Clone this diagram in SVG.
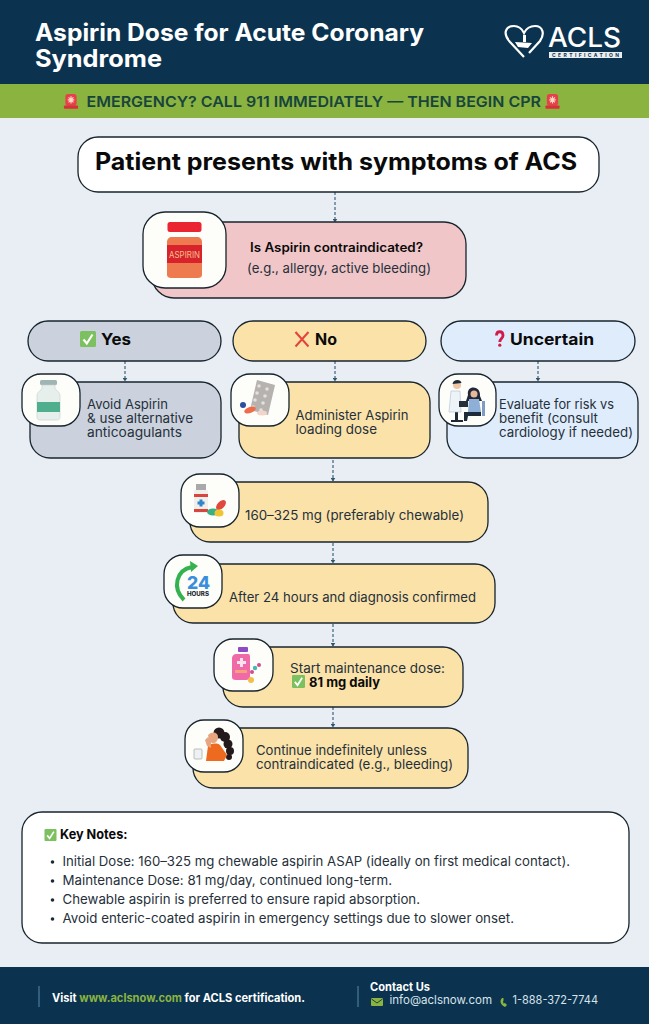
<svg xmlns="http://www.w3.org/2000/svg" width="649" height="1024" viewBox="0 0 649 1024">
<style>
text{font-family:Inter,"Open Sans","Liberation Sans",sans-serif;fill:#26303a;font-size:13px}
.b{font-weight:700;fill:#0a0a0a}
.w{fill:#fff}
.box{stroke:#17242c;stroke-width:1.3}
.icon{fill:#fdfdfa;stroke:#17242c;stroke-width:1.3}
.amber{fill:#fae2a9}
.conn{fill:none;stroke:#2f5870;stroke-width:1.1;stroke-dasharray:3 2;marker-end:url(#ah)}
</style>
<defs>
<marker id="ah" markerWidth="5" markerHeight="5" refX="3.4" refY="2.5" orient="auto" markerUnits="userSpaceOnUse"><path d="M0 0L4 2.5L0 5Z" fill="#2f5870"/></marker>
<symbol id="chk" viewBox="0 0 16 16" overflow="visible"><rect width="16" height="16" rx="1.5" fill="#7cc05f"/><path d="M3.5 8.5L6.8 12.5L12.5 3.5" fill="none" stroke="#fff" stroke-width="2.2"/></symbol>
<symbol id="siren" viewBox="0 0 16 16" overflow="visible"><rect x="2" y="0" width="12" height="12.5" rx="3" fill="#e8404a"/><rect x="0.5" y="12.3" width="15" height="3.5" rx="0.8" fill="#d92f3a"/><path d="M8 2.5V10M4.5 6.3H11.5M5.4 3.7L10.6 8.9M10.6 3.7L5.4 8.9" stroke="#fbd9c4" stroke-width="1.2"/></symbol>
</defs>

<rect width="649" height="1024" fill="#e9eef5"/>

<g id="header">
<rect width="649" height="84" fill="#0b3350"/>
<text class="w" x="35" y="41" style="font-size:24px;font-weight:700" textLength="389" lengthAdjust="spacingAndGlyphs">Aspirin Dose for Acute Coronary</text>
<text class="w" x="35" y="67" style="font-size:24px;font-weight:700" textLength="127" lengthAdjust="spacingAndGlyphs">Syndrome</text>
<g id="logo">
<path d="M524 57L510 42C502 33 506 26 514 26C519 26 522 29 524 33C526 29 530 26 535 26C543 26 545 34 540 41L529 53" fill="none" stroke="#fff" stroke-width="2.2"/>
<path d="M515 42L532 43L528 48L518 47ZM523 35H526V42H523Z" fill="#fff"/>
<text class="w" x="548" y="47" style="font-size:27px;font-weight:500" textLength="73" lengthAdjust="spacingAndGlyphs">ACLS</text>
<rect x="549" y="52" width="73" height="6" fill="#e9eef1"/>
<text x="552" y="57" style="font-size:5px;font-weight:700;fill:#0b3350" textLength="67">CERTIFICATION</text>
</g>
</g>

<g id="banner">
<rect y="84" width="649" height="34" fill="#8ab33f"/>
<use href="#siren" x="63" y="94" width="16" height="15"/>
<text x="86.500" y="107" style="font-size:15px;font-weight:600;fill:#17443d" textLength="454.500" lengthAdjust="spacingAndGlyphs">EMERGENCY? CALL 911 IMMEDIATELY — THEN BEGIN CPR</text>
<use href="#siren" x="545" y="94" width="15" height="15"/>
</g>

<g id="connectors">
<path class="conn" d="M335 192V222"/>
<path class="conn" d="M125 361V381"/>
<path class="conn" d="M335 361V381"/>
<path class="conn" d="M538 361V381"/>
<path class="conn" d="M333 460V481"/>
<path class="conn" d="M333 543V563"/>
<path class="conn" d="M333 624V646"/>
<path class="conn" d="M333 707V727"/>
</g>

<g id="n-start">
<rect class="box" x="78" y="137" width="521" height="55" rx="20" fill="#fff"/>
<text class="b" x="95" y="170" style="font-size:24px" textLength="482" lengthAdjust="spacingAndGlyphs">Patient presents with symptoms of ACS</text>
</g>

<g id="n-question">
<rect class="box" x="152" y="222" width="314" height="76" rx="22" fill="#f0c6c8"/>
<rect class="icon" x="143" y="212" width="83" height="76" rx="22"/>
<rect x="167.500" y="222" width="34" height="10" rx="2.500" fill="#ea2430"/>
<path d="M172 237H197C200 237 202 239 202 242V275C202 277 200 278 198 278H171C169 278 167 277 167 275V242C167 239 169 237 172 237Z" fill="#ee7b50"/>
<rect x="167" y="245" width="35" height="18" fill="#d8232c"/>
<text x="169" y="258" style="font-size:9px;fill:#f5c08a" textLength="31" lengthAdjust="spacingAndGlyphs">ASPIRIN</text>
<text class="b" x="250" y="252" style="font-size:12.500px;font-weight:600" textLength="173" lengthAdjust="spacingAndGlyphs">Is Aspirin contraindicated?</text>
<text x="247" y="273" style="font-size:13.500px" textLength="184" lengthAdjust="spacingAndGlyphs">(e.g., allergy, active bleeding)</text>
</g>

<g id="n-yes">
<rect class="box" x="28" y="321" width="193" height="40" rx="20" fill="#cbd2de"/>
<use href="#chk" x="80" y="331" width="16" height="16"/>
<text class="b" x="101" y="345" style="font-size:16px" textLength="30" lengthAdjust="spacingAndGlyphs">Yes</text>
</g>
<g id="n-no">
<rect x="233" y="321" width="193" height="40" rx="20" class="box amber"/>
<path d="M295.500 332L308.500 346.500M308.500 332L295.500 346.500" stroke="#e6423c" stroke-width="2" fill="none"/>
<text class="b" x="315" y="345" style="font-size:16px" textLength="22" lengthAdjust="spacingAndGlyphs">No</text>
</g>
<g id="n-uncertain">
<rect class="box" x="441" y="321" width="194" height="40" rx="20" fill="#deecfb"/>
<path d="M496.500 335.500C496.500 330.500 503 330.500 503 335.500C503 338.500 499.800 338.500 499.800 342" fill="none" stroke="#d01c4b" stroke-width="2.800"/>
<circle cx="499.800" cy="345.200" r="1.600" fill="#d01c4b"/>
<text class="b" x="510" y="345" style="font-size:16px" textLength="84" lengthAdjust="spacingAndGlyphs">Uncertain</text>
</g>

<g id="n-avoid">
<rect class="box" x="30" y="382" width="191" height="76" rx="20" fill="#cbd2de"/>
<rect class="icon" x="22" y="374" width="58" height="52" rx="19"/>
<rect x="40" y="380" width="17" height="5" rx="1.500" fill="#9fb6b4"/>
<path d="M42 385H55V389C58 391 60 393 60 396V417C60 419 59 420 57 420H40C38 420 37 419 37 417V396C37 393 39 391 42 389Z" fill="#e7efec" stroke="#c3cfcc" stroke-width="0.600"/>
<rect x="37" y="402" width="23" height="10" fill="#4fae8e"/>
<text x="87" y="409" textLength="81" lengthAdjust="spacingAndGlyphs">Avoid Aspirin</text>
<text x="87" y="423" textLength="106" lengthAdjust="spacingAndGlyphs">&amp; use alternative</text>
<text x="87" y="437" textLength="95" lengthAdjust="spacingAndGlyphs">anticoagulants</text>
</g>

<g id="n-administer">
<rect x="239" y="382" width="191" height="76" rx="20" class="box amber"/>
<rect class="icon" x="231" y="374" width="58" height="52" rx="19"/>
<path d="M257 380L275 385L268 415L250 410Z" fill="#b5b2af"/>
<g fill="#e4e1dd"><circle cx="259" cy="386" r="1.800"/><circle cx="267" cy="389" r="1.800"/><circle cx="257" cy="393" r="1.800"/><circle cx="265" cy="396" r="1.800"/><circle cx="255" cy="400" r="1.800"/><circle cx="263" cy="403" r="1.800"/><circle cx="253" cy="407" r="1.800"/><circle cx="261" cy="410" r="1.800"/></g>
<circle cx="243" cy="405" r="3" fill="#2b4f9e"/>
<ellipse cx="250" cy="410" rx="6" ry="3" fill="#ef6c4a" transform="rotate(-20 250 410)"/>
<ellipse cx="262" cy="413" rx="5" ry="2.500" fill="#f2d5c8"/>
<text x="295.500" y="420" textLength="113" lengthAdjust="spacingAndGlyphs">Administer Aspirin</text>
<text x="295.500" y="434" textLength="81.500" lengthAdjust="spacingAndGlyphs">loading dose</text>
</g>

<g id="n-evaluate">
<rect class="box" x="447" y="382" width="191" height="76" rx="20" fill="#deecfb"/>
<rect class="icon" x="439" y="374" width="57" height="52" rx="19"/>
<path d="M455 412H458V420H463V422H451V420H455Z" fill="#1f2a36"/>
<path d="M451 391H460L461 412H449Z" fill="#eef3f7" stroke="#a9c0d2" stroke-width="0.600"/>
<circle cx="457" cy="385" r="4" fill="#f0c4a4"/>
<path d="M452.500 384C453 379 461 379 461.500 383Z" fill="#1d2a3a"/>
<rect x="459" y="401" width="9" height="6" fill="#26303a"/>
<rect x="482" y="401" width="3" height="15" fill="#7f9cc2"/>
<path d="M468 395C466 385 481 385 480 396L482 401H466Z" fill="#22283a"/>
<circle cx="474" cy="394" r="3.500" fill="#e9b89a"/>
<path d="M469 399H479L481 412H468Z" fill="#8fb0d6"/>
<path d="M464 412H481V416H468L467 421H464Z" fill="#1d2a3a"/>
<text x="499" y="409" textLength="115" lengthAdjust="spacingAndGlyphs">Evaluate for risk vs</text>
<text x="499" y="423" textLength="99" lengthAdjust="spacingAndGlyphs">benefit (consult</text>
<text x="499" y="437" textLength="134" lengthAdjust="spacingAndGlyphs">cardiology if needed)</text>
</g>

<g id="n-dose">
<rect x="190" y="482" width="298" height="60" rx="20" class="box amber"/>
<rect class="icon" x="181" y="474" width="58" height="53" rx="19"/>
<rect x="196" y="484" width="10" height="6" fill="#a9a9a9"/>
<rect x="194" y="490" width="14" height="23" rx="1.500" fill="#f1efec"/>
<rect x="194" y="494" width="14" height="3" fill="#d9443c"/>
<rect x="194" y="509" width="14" height="3" fill="#d9443c"/>
<path d="M199.500 499.500H202.500V501.500H204.500V504.500H202.500V506.500H199.500V504.500H197.500V501.500H199.500Z" fill="#2e86c8"/>
<ellipse cx="221" cy="505" rx="6" ry="3.500" fill="#e0493f" transform="rotate(-45 221 505)"/>
<ellipse cx="213" cy="512" rx="6" ry="3.500" fill="#3aae86"/>
<ellipse cx="219" cy="513" rx="4.500" ry="3.500" fill="#f1c532"/>
<text x="245" y="520" textLength="219" lengthAdjust="spacingAndGlyphs">160–325 mg (preferably chewable)</text>
</g>

<g id="n-24h">
<rect x="173" y="564" width="322" height="59" rx="20" class="box amber"/>
<rect class="icon" x="164" y="555" width="58" height="53" rx="19"/>
<path d="M184 600C172 588 176 570 192 567" fill="none" stroke="#33b24f" stroke-width="4"/>
<path d="M190 561L198 566L191 572Z" fill="#33b24f"/>
<text x="187" y="589" style="font-size:18px;font-weight:800;fill:#3a8fdc" textLength="23" lengthAdjust="spacingAndGlyphs">24</text>
<text x="187" y="596" style="font-size:6px;font-weight:800;fill:#1d2a33" textLength="22" lengthAdjust="spacingAndGlyphs">HOURS</text>
<text x="229" y="602" textLength="247" lengthAdjust="spacingAndGlyphs">After 24 hours and diagnosis confirmed</text>
</g>

<g id="n-maintenance">
<rect x="223" y="647" width="240" height="60" rx="20" class="box amber"/>
<rect class="icon" x="214" y="639" width="59" height="52" rx="19"/>
<rect x="238" y="647" width="10" height="5" rx="1" fill="#8d4bc4"/>
<path d="M236 654H248C250 654 250 656 250 658V677C250 679 248 680 246 680H236C233 680 232 679 232 677V658C232 656 234 654 236 654Z" fill="#f06aa8"/>
<path d="M240 658H243V661H246V664H243V667H240V664H237V661H240Z" fill="#fbe3ee"/>
<rect x="235" y="670" width="12" height="3" fill="#f4a27e"/>
<circle cx="255" cy="668" r="2.200" fill="#4ab8b0"/><circle cx="259" cy="665" r="2" fill="#d94a8a"/><circle cx="252" cy="672" r="2" fill="#d94a8a"/><circle cx="251" cy="680" r="3" fill="#f2c04a"/>
<text x="290" y="673" textLength="155" lengthAdjust="spacingAndGlyphs">Start maintenance dose:</text>
<use href="#chk" x="292" y="675" width="13" height="13"/>
<text class="b" x="309" y="687" style="font-size:13px" textLength="71" lengthAdjust="spacingAndGlyphs">81 mg daily</text>
</g>

<g id="n-continue">
<rect x="193" y="728" width="275" height="60" rx="20" class="box amber"/>
<rect class="icon" x="185" y="720" width="58" height="52" rx="19"/>
<g fill="#241a1c"><circle cx="219" cy="733" r="5.500"/><circle cx="225" cy="737" r="5"/><circle cx="228" cy="744" r="4.500"/><circle cx="230" cy="751" r="4"/><circle cx="229" cy="757" r="3"/></g>
<path d="M208 735C212 731 218 732 218 737C218 741 215 744 212 743L209 741Z" fill="#e8a680"/>
<path d="M208 746C212 743 217 743 220 745L227 755L224 761H206Z" fill="#ee6a1f"/>
<path d="M207 746L205 740L208 737L211 741L211 748Z" fill="#e8a680"/>
<rect x="194" y="749" width="8" height="10" rx="1" fill="#eef1f2" stroke="#a9b0b3" stroke-width="0.800"/>
<text x="256" y="755" textLength="171" lengthAdjust="spacingAndGlyphs">Continue indefinitely unless</text>
<text x="256" y="769" textLength="197" lengthAdjust="spacingAndGlyphs">contraindicated (e.g., bleeding)</text>
</g>

<g id="n-notes">
<rect class="box" x="22" y="812" width="607" height="131" rx="20" fill="#fff"/>
<use href="#chk" x="44" y="829" width="13" height="12"/>
<text class="b" x="60" y="839" style="font-size:13px" textLength="67.500" lengthAdjust="spacingAndGlyphs">Key Notes:</text>
<g fill="#1d2a33"><circle cx="52.500" cy="862" r="1.800"/><circle cx="52.500" cy="881" r="1.800"/><circle cx="52.500" cy="900" r="1.800"/><circle cx="52.500" cy="919" r="1.800"/></g>
<text x="62.500" y="866" textLength="507.500" lengthAdjust="spacingAndGlyphs">Initial Dose: 160–325 mg chewable aspirin ASAP (ideally on first medical contact).</text>
<text x="62.500" y="885" textLength="329.500" lengthAdjust="spacingAndGlyphs">Maintenance Dose: 81 mg/day, continued long-term.</text>
<text x="62.500" y="904" textLength="357.500" lengthAdjust="spacingAndGlyphs">Chewable aspirin is preferred to ensure rapid absorption.</text>
<text x="62.500" y="923" textLength="451.500" lengthAdjust="spacingAndGlyphs">Avoid enteric-coated aspirin in emergency settings due to slower onset.</text>
</g>

<g id="footer">
<rect y="967" width="649" height="57" fill="#0b3350"/>
<path d="M39 986V1007M358 986V1007" stroke="#3f6d8a" stroke-width="1.500"/>
<text class="w" x="52" y="1002" style="font-size:11.500px;font-weight:700" textLength="253" lengthAdjust="spacingAndGlyphs">Visit <tspan style="fill:#8ab33f">www.aclsnow.com</tspan> for ACLS certification.</text>
<text class="w" x="370" y="991" style="font-size:11.500px;font-weight:700" textLength="60" lengthAdjust="spacingAndGlyphs">Contact Us</text>
<rect x="371" y="998" width="12" height="8" rx="1" fill="#8ab33f"/>
<path d="M371.500 999L377 1003L382.500 999" fill="none" stroke="#0b3350" stroke-width="0.900"/>
<text x="389.500" y="1004" style="font-size:11.500px;fill:#d9e3ea" textLength="102.500" lengthAdjust="spacingAndGlyphs">info@aclsnow.com</text>
<path d="M502 998C499.500 1000 500 1005 505 1007L507 1005L505 1003L503.500 1003.500C503 1002 503 1001 503.500 1000.500L503.500 998Z" fill="#8ab33f"/>
<text x="512.500" y="1004" style="font-size:11.500px;fill:#d9e3ea" textLength="85.500" lengthAdjust="spacingAndGlyphs">1-888-372-7744</text>
</g>
</svg>
